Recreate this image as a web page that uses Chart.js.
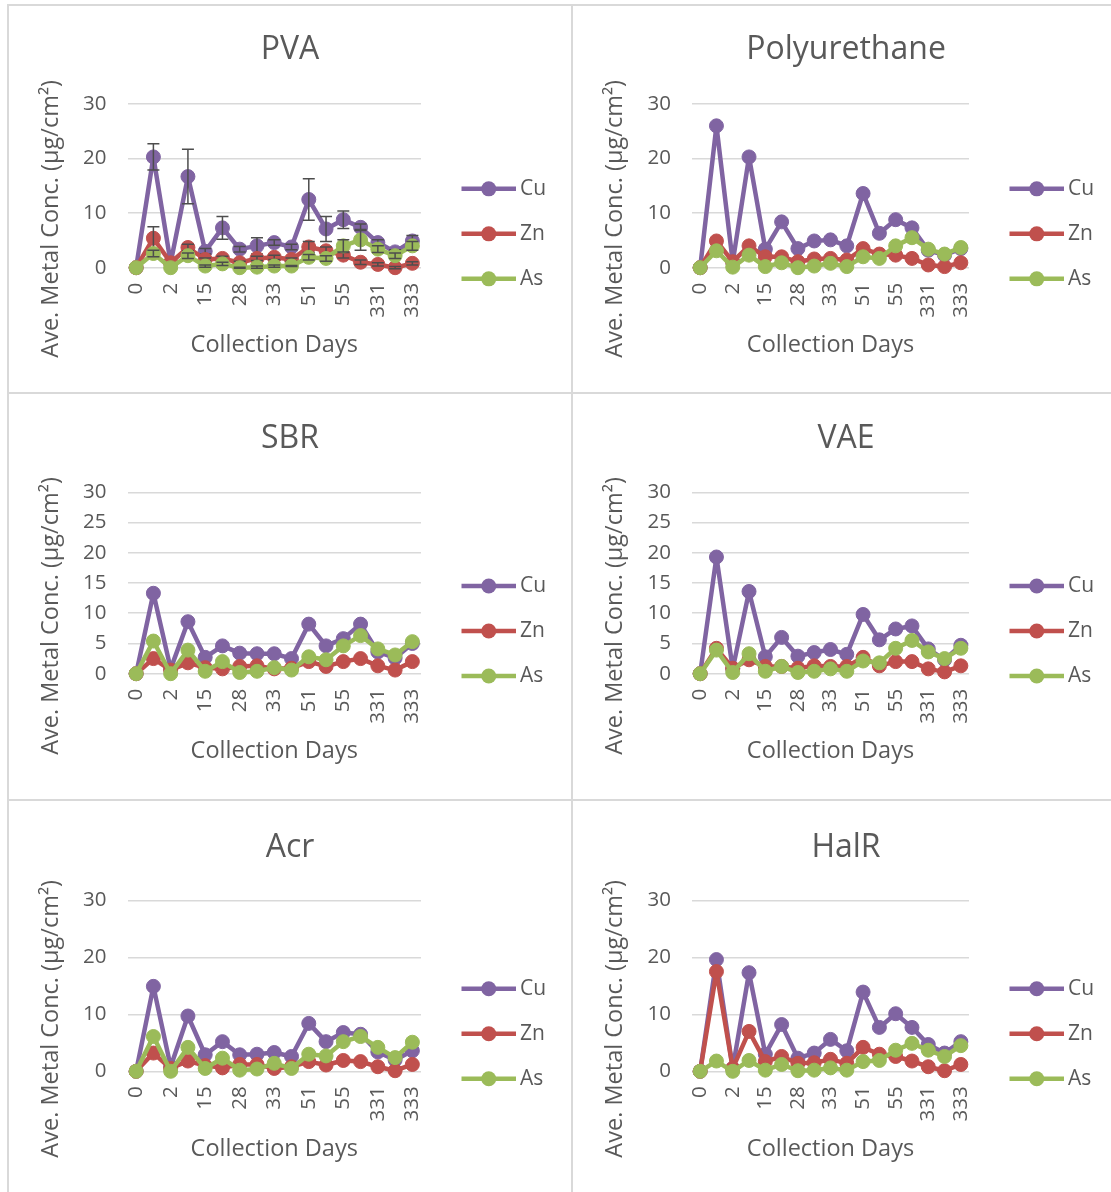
<!DOCTYPE html>
<html>
<head>
<meta charset="utf-8">
<script src="https://cdn.jsdelivr.net/npm/chart.js@4.4.1/dist/chart.umd.min.js"></script>
<style>
    html, body { margin: 0; padding: 0; background: #fff; overflow: hidden; }
    body { width: 1111px; height: 1192px; position: relative; }
    .panel { position: absolute; box-sizing: border-box; border: 2px solid #d9d9d9; background: #fff; }
    .panel canvas { display: block; }
</style>
</head>
<body>
<div class="panel" style="left:7px;top:4px;width:566px;height:390px"><canvas id="c0" width="562" height="386"></canvas></div>
<div class="panel" style="left:571px;top:4px;width:550px;height:390px"><canvas id="c1" width="546" height="386"></canvas></div>
<div class="panel" style="left:7px;top:392px;width:566px;height:409px"><canvas id="c2" width="562" height="405"></canvas></div>
<div class="panel" style="left:571px;top:392px;width:550px;height:409px"><canvas id="c3" width="546" height="405"></canvas></div>
<div class="panel" style="left:7px;top:799px;width:566px;height:400px"><canvas id="c4" width="562" height="396"></canvas></div>
<div class="panel" style="left:571px;top:799px;width:550px;height:400px"><canvas id="c5" width="546" height="396"></canvas></div>

<script>
// collection days (every other one is printed on the axis)
const days = ['0', '1', '2', '7', '15', '21', '28', '30', '33', '42', '51', '53', '55', '57', '331', '332', '333'];

const pvaCu = [0, 20.3, 0.9, 16.7, 3.0, 7.3, 3.4, 4.0, 4.6, 3.8, 12.5, 7.1, 8.8, 7.4, 4.6, 2.9, 4.9];
const pvaZn = [0, 5.4, 0.9, 3.7, 1.5, 1.7, 0.9, 1.7, 1.9, 1.5, 3.8, 3.1, 2.3, 1.0, 0.6, 0.0, 0.8];
const pvaAs = [0, 2.6, 0.0, 2.2, 0.3, 0.7, 0.0, 0.1, 0.3, 0.3, 1.9, 1.7, 4.0, 5.1, 3.4, 2.2, 4.0];
const pvaCuErr = [0, 2.4, 0, 5.0, 0.5, 2.1, 0.5, 1.5, 0.5, 0.5, 3.8, 2.3, 1.6, 0.6, 0.5, 0.4, 1.0];
const pvaZnErr = [0, 2.1, 0, 0.6, 0.3, 0.4, 0.3, 0.4, 0.4, 0.3, 1.0, 0.7, 0.5, 0.4, 0.3, 0.2, 0.3];
const pvaAsErr = [0, 0.6, 0, 0.5, 0.2, 0.3, 0.1, 0.2, 0.2, 0.1, 0.5, 0.5, 1.1, 1.9, 0.6, 0.5, 0.8];

const puCu = [0, 26.0, 1.0, 20.3, 3.4, 8.4, 3.5, 4.9, 5.1, 4.0, 13.6, 6.3, 8.8, 7.3, 3.2, 2.3, 3.5];
const puZn = [0, 4.9, 1.1, 4.0, 2.0, 2.0, 1.1, 1.6, 1.7, 1.4, 3.5, 2.5, 2.3, 1.7, 0.5, 0.2, 0.9];
const puAs = [0, 3.1, 0.1, 2.3, 0.2, 0.9, 0.0, 0.3, 0.8, 0.2, 2.0, 1.7, 4.0, 5.5, 3.4, 2.5, 3.7];

const sbrCu = [0, 13.3, 0.8, 8.6, 2.7, 4.6, 3.4, 3.3, 3.3, 2.5, 8.2, 4.6, 5.8, 8.2, 3.6, 2.6, 5.0];
const sbrZn = [0, 2.5, 0.6, 1.8, 1.0, 0.8, 1.2, 1.3, 0.8, 0.9, 2.0, 1.2, 2.0, 2.5, 1.3, 0.6, 2.0];
const sbrAs = [0, 5.4, 0.0, 3.9, 0.4, 2.0, 0.2, 0.4, 1.0, 0.6, 2.8, 2.3, 4.6, 6.3, 4.1, 3.1, 5.3];

const vaeCu = [0, 19.3, 0.8, 13.6, 2.8, 6.0, 2.9, 3.5, 4.0, 3.2, 9.8, 5.6, 7.4, 7.9, 4.1, 2.3, 4.7];
const vaeZn = [0, 4.2, 0.9, 2.3, 1.2, 1.2, 0.9, 1.3, 1.2, 1.2, 2.7, 1.3, 2.0, 2.0, 0.8, 0.3, 1.3];
const vaeAs = [0, 3.9, 0.2, 3.3, 0.4, 1.2, 0.2, 0.4, 0.8, 0.4, 2.1, 1.8, 4.2, 5.5, 3.6, 2.5, 4.2];

const acrCu = [0, 14.9, 0.8, 9.7, 2.9, 5.2, 2.9, 3.0, 3.3, 2.6, 8.4, 5.2, 6.8, 6.5, 3.4, 2.0, 3.6];
const acrZn = [0, 3.2, 0.5, 1.8, 1.0, 0.6, 1.2, 1.2, 0.5, 0.8, 1.7, 1.1, 1.9, 1.7, 0.8, 0.1, 1.2];
const acrAs = [0, 6.1, 0.0, 4.2, 0.5, 2.3, 0.2, 0.4, 1.4, 0.5, 3.0, 2.7, 5.2, 6.1, 4.2, 2.4, 5.1];

const halCu = [0, 19.6, 0.5, 17.3, 3.0, 8.2, 2.3, 3.2, 5.6, 3.6, 13.9, 7.7, 10.1, 7.7, 4.7, 3.2, 5.2];
const halZn = [0, 17.5, 0.5, 7.0, 1.7, 2.6, 1.4, 1.5, 2.1, 1.4, 4.2, 3.0, 2.6, 1.8, 0.8, 0.1, 1.2];
const halAs = [0, 1.8, 0.0, 1.9, 0.2, 1.2, 0.1, 0.2, 0.6, 0.2, 1.7, 1.9, 3.7, 4.9, 3.7, 2.6, 4.5];

const metals = ['Cu', 'Zn', 'As'];
const colors = ['#8064A2', '#C0504D', '#9BBB59'];
const textColor = '#595959';
const yTitle = 'Ave. Metal Conc. (µg/cm²)';

Chart.defaults.font.family = '"Open Sans", sans-serif';
Chart.defaults.color = textColor;

// plot area placement per row of panels
const rows = [
    { plotTop: 98, plotBottom: 261.7, titleMid: 44, height: 386 },
    { plotTop: 98.3, plotBottom: 279.7, titleMid: 45, height: 405 },
    { plotTop: 99.3, plotBottom: 270.3, titleMid: 47, height: 396 }
];

const panels = [
    { id: 'c0', title: 'PVA', series: [pvaCu, pvaZn, pvaAs], errors: [pvaCuErr, pvaZnErr, pvaAsErr], step: 10, row: 0, yWidth: 118.5 },
    { id: 'c1', title: 'Polyurethane', series: [puCu, puZn, puAs], step: 10, row: 0, yWidth: 119 },
    { id: 'c2', title: 'SBR', series: [sbrCu, sbrZn, sbrAs], step: 5, row: 1, yWidth: 118.5 },
    { id: 'c3', title: 'VAE', series: [vaeCu, vaeZn, vaeAs], step: 5, row: 1, yWidth: 119 },
    { id: 'c4', title: 'Acr', series: [acrCu, acrZn, acrAs], step: 10, row: 2, yWidth: 118.5 },
    { id: 'c5', title: 'HalR', series: [halCu, halZn, halAs], step: 10, row: 2, yWidth: 119 }
];

const X_AXIS_HEIGHT = 92;
const TITLE_SIZE = 32;

// error bars, rotated y title and the line+marker legend
const decor = {
    id: 'decor',
    afterDatasetDraw(chart, args, opts) {
        const errs = opts.errors && opts.errors[args.index];
        if (!errs) return;
        const { ctx } = chart;
        const xs = chart.scales.x, ys = chart.scales.y;
        const vals = chart.data.datasets[args.index].data;
        ctx.save();
        ctx.strokeStyle = '#4d4d4d';
        ctx.lineWidth = 1.5;
        errs.forEach((e, i) => {
            if (!e) return;
            const px = xs.getPixelForValue(i);
            const top = ys.getPixelForValue(vals[i] + e);
            const bot = ys.getPixelForValue(vals[i] - e);
            ctx.beginPath();
            ctx.moveTo(px, top); ctx.lineTo(px, bot);
            ctx.moveTo(px - 6, top); ctx.lineTo(px + 6, top);
            ctx.moveTo(px - 6, bot); ctx.lineTo(px + 6, bot);
            ctx.stroke();
        });
        ctx.restore();
    },
    afterDraw(chart) {
        const { ctx, chartArea: a } = chart;
        const mid = (a.top + a.bottom) / 2;

        ctx.save();
        ctx.fillStyle = textColor;
        ctx.font = '23.5px "Open Sans"';
        ctx.textAlign = 'center';
        ctx.textBaseline = 'middle';
        ctx.translate(42, mid + 33);
        ctx.rotate(-Math.PI / 2);
        ctx.fillText(yTitle, 0, 0);
        ctx.restore();

        ctx.save();
        ctx.font = '21px "Open Sans"';
        ctx.textBaseline = 'middle';
        chart.data.datasets.forEach((ds, i) => {
            const y = mid + 48 + (i - 1) * 45;
            const x0 = a.right + 40.5, x1 = a.right + 95;
            ctx.strokeStyle = ds.borderColor;
            ctx.lineWidth = 4.5;
            ctx.beginPath();
            ctx.moveTo(x0, y); ctx.lineTo(x1, y);
            ctx.stroke();
            ctx.fillStyle = ds.backgroundColor;
            ctx.beginPath();
            ctx.arc((x0 + x1) / 2, y, 7.5, 0, Math.PI * 2);
            ctx.fill();
            ctx.fillStyle = textColor;
            ctx.fillText(ds.label, a.right + 99, y);
        });
        ctx.restore();
    }
};

panels.forEach(p => {
    const row = rows[p.row];
    const lineH = TITLE_SIZE * 1.2;
    const titleTop = row.titleMid - lineH / 2;

    new Chart(document.getElementById(p.id), {
        type: 'line',
        data: {
            labels: days,
            datasets: p.series.map((values, i) => ({
                label: metals[i],
                data: values,
                borderColor: colors[i],
                backgroundColor: colors[i],
                borderWidth: 4.5,
                borderJoinStyle: 'round',
                borderCapStyle: 'round',
                pointRadius: 7,
                pointHoverRadius: 7,
                pointBorderWidth: 1,
                tension: 0,
                clip: false,
                order: 3 - i
            }))
        },
        options: {
            responsive: false,
            animation: false,
            layout: {
                padding: { top: 0, left: 0, right: 0, bottom: row.height - row.plotBottom - X_AXIS_HEIGHT }
            },
            plugins: {
                legend: { display: false },
                tooltip: { enabled: false },
                title: {
                    display: true,
                    text: p.title,
                    color: textColor,
                    font: { size: TITLE_SIZE, weight: 'normal' },
                    padding: { top: titleTop, bottom: row.plotTop - titleTop - lineH }
                },
                decor: { errors: p.errors }
            },
            scales: {
                x: {
                    offset: true,
                    grid: { display: false, drawTicks: false, offset: true },
                    border: { display: false },
                    ticks: {
                        color: textColor,
                        font: { size: 20.5 },
                        minRotation: 90,
                        maxRotation: 90,
                        autoSkip: false,
                        padding: 15,
                        callback: (v, i) => (i % 2 ? '' : days[i])
                    },
                    title: { display: true, text: 'Collection Days', color: textColor, font: { size: 23.5 }, padding: 0 },
                    afterFit: s => { s.height = X_AXIS_HEIGHT; }
                },
                y: {
                    min: 0,
                    max: 30,
                    ticks: { stepSize: p.step, color: textColor, font: { size: 20.5 }, padding: 21 },
                    grid: { color: '#d9d9d9', lineWidth: 1.5, drawTicks: false },
                    border: { display: false },
                    afterFit: s => { s.width = p.yWidth; }
                },
                legendSpace: {
                    type: 'linear',
                    position: 'right',
                    grid: { display: false, drawTicks: false },
                    border: { display: false },
                    ticks: { display: false },
                    afterFit: s => { s.width = 150; }
                }
            }
        },
        plugins: [decor]
    });
});
</script>
</body>
</html>
